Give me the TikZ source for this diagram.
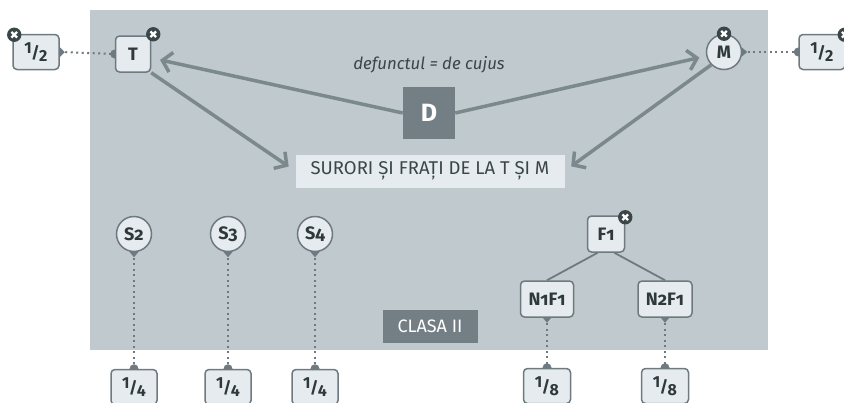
\documentclass[tikz,border=0pt]{standalone}
\usepackage{fontspec}
\setmainfont{Fira Sans}
\newfontfamily\oldnum[Numbers=OldStyle]{Fira Sans}
\usetikzlibrary{arrows.meta,calc}
\pgfdeclarelayer{bg}\pgfdeclarelayer{back}
\pgfsetlayers{bg,back,main}
\definecolor{panel}{HTML}{BFC9CE}
\definecolor{boxfill}{HTML}{E5EBEE}
\definecolor{edgec}{HTML}{6E7A7F}
\definecolor{arrowc}{HTML}{7B888D}
\definecolor{darkc}{HTML}{737F84}
\definecolor{xdark}{HTML}{3B4649}
\newcommand\frc[2]{\raisebox{4.5pt}{#1}\kern-0.5pt/\kern-0.5pt\raisebox{-3pt}{#2}}
\tikzset{
  box/.style={draw=edgec, line width=1.5pt, fill=boxfill, rounded corners=4pt,
    minimum width=35, minimum height=36, inner sep=2pt,
    font=\oldnum\bfseries\fontsize{18}{18}\selectfont, text=xdark!80!black},
  fbox/.style={box, minimum width=46, minimum height=35,
    font=\bfseries\fontsize{16}{16}\selectfont},
  circ/.style={circle, draw=edgec, line width=1.5pt, fill=boxfill, minimum size=35,
    inner sep=0pt, font=\oldnum\bfseries\fontsize{18}{18}\selectfont, text=xdark!80!black},
  darkbox/.style={fill=darkc, text=white, inner sep=0pt},
  arr/.style={draw=arrowc, line width=3.5pt, -{Straight Barb[length=9pt,width=20pt]}},
  thin/.style={draw=edgec, line width=1.8pt},
  dotc/.style={draw=edgec, line width=2pt, dash pattern=on 2pt off 3.5pt},
  closex/.pic={\fill[xdark] (0,0) circle (7.2);
    \draw[white, line width=2.2pt] (-2.8,-2.8) -- (2.8,2.8) (-2.8,2.8) -- (2.8,-2.8);}
}
\begin{document}
\begin{tikzpicture}[x=1pt,y=-1pt]
\useasboundingbox (0,0) rectangle (844,402);
\begin{pgfonlayer}{bg}
\fill[panel] (90,10) rectangle (768,350);
\end{pgfonlayer}

% top row
\node[fbox] (lhalf) at (36,52) {\frc{1}{2}};
\node[box] (T) at (133,54) {T};
\node[circ] (M) at (724,52) {M};
\node[fbox] (rhalf) at (822,52) {\frc{1}{2}};
\node[darkbox, minimum size=52, font=\bfseries\fontsize{25}{25}\selectfont] (D) at (429,113) {D};
\node[font=\itshape\fontsize{16.8}{16.8}\selectfont, text=xdark] (defn) at (429,65) {defunctul = de cujus};
\node[fill=boxfill, minimum width=269, minimum height=33, inner sep=0pt,
  font=\fontsize{18.5}{18.5}\selectfont, text=xdark] (sib) at (430,171) {SURORI ȘI FRAȚI DE LA T ȘI M};

% siblings
\node[circ] (S2) at (134,234) {S2};
\node[circ] (S3) at (228,234) {S3};
\node[circ] (S4) at (315,234) {S4};
\node[fbox] (q1) at (134,387) {\frc{1}{4}};
\node[fbox] (q2) at (228,387) {\frc{1}{4}};
\node[fbox] (q3) at (315,387) {\frc{1}{4}};

\node[box, minimum width=37] (F1) at (606,234) {F1};
\node[box, minimum width=53] (N1) at (547,299) {N1F1};
\node[box, minimum width=54] (N2) at (665,299) {N2F1};
\node[fbox, minimum width=47] (e1) at (547,386) {\frc{1}{8}};
\node[fbox, minimum width=47] (e2) at (665,386) {\frc{1}{8}};

\node[darkbox, minimum width=95, minimum height=33, font=\fontsize{18}{18}\selectfont] (cls) at (430,326) {CLASA II};

% arrows
\draw[arr, shorten >=9pt] (D.west) -- (T);
\draw[arr, shorten >=7pt] (D.east) -- (M);
\draw[arr, shorten >=8pt] (T.south east) -- (sib.west);
\draw[arr, shorten >=8pt] (M.south west) -- (sib.east);

\draw[thin] (F1.246) -- (N1.north);
\draw[thin] (F1.294) -- (N2.north);

% dotted connectors (behind nodes)
\begin{pgfonlayer}{back}
\draw[dotc] (lhalf.east) -- (T.west);
\fill[edgec] ($(lhalf.east)+(0,-5)$) -- ++(5,5) -- ++(-5,5) -- cycle;
\fill[edgec] (T.west) circle (4.5);
\draw[dotc] (M.east) -- (rhalf.west);
\fill[edgec] ($(M.east)+(-1,-5)$) -- ++(6,5) -- ++(-6,5) -- cycle;
\fill[edgec] (rhalf.west) circle (4.5);
\foreach \a/\b in {S2/q1,S3/q2,S4/q3,N1/e1,N2/e2}{
  \draw[dotc] (\a.south) -- (\b.north);
  \fill[edgec] ($(\a.south)+(-5,-1)$) -- ++(5,6) -- ++(5,-6) -- cycle;
  \fill[edgec] (\b.north) circle (4.5);
}
\end{pgfonlayer}

% close icons
\pic at ($(lhalf.north west)+(2,1)$) {closex};
\pic at ($(T.north east)+(2,-1)$) {closex};
\pic at (M.north) {closex};
\pic at ($(rhalf.north east)+(-1,1)$) {closex};
\pic at ($(F1.north east)+(0,2)$) {closex};
\end{tikzpicture}
\end{document}
